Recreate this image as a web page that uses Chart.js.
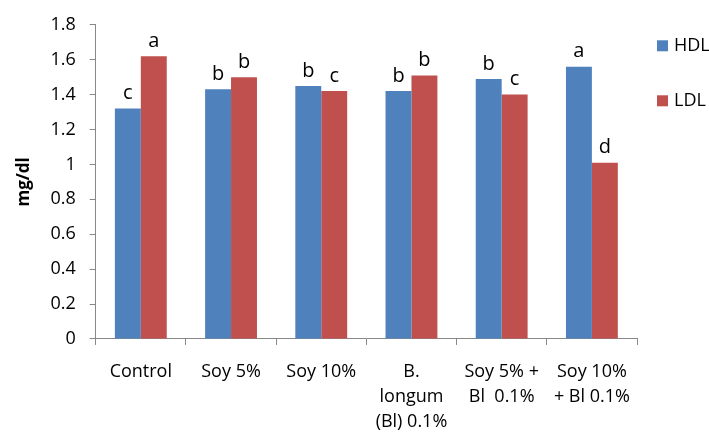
<!DOCTYPE html>
<html>
<head>
<meta charset="utf-8">
<script src="https://cdn.jsdelivr.net/npm/chart.js@4.4.0/dist/chart.umd.min.js"></script>
<style>
    html, body { margin: 0; padding: 0; background: #fff; }
    #wrap { width: 709px; height: 432px; }
</style>
</head>
<body>
<div id="wrap"><canvas id="lipidChart"></canvas></div>
<script>
// categorias e valores (mg/dl)
const grupos = ['Control', 'Soy 5%', 'Soy 10%', ['B.', 'longum', '(Bl) 0.1%'], ['Soy 5% +', 'Bl  0.1%'], ['Soy 10%', '+ Bl 0.1%']];
const hdl = [1.32, 1.43, 1.45, 1.42, 1.49, 1.56];
const ldl = [1.62, 1.50, 1.42, 1.51, 1.40, 1.01];
// letras de significância
const letrasHdl = ['c', 'b', 'b', 'b', 'b', 'a'];
const letrasLdl = ['a', 'b', 'c', 'b', 'c', 'd'];
const yTicks = [0, 0.2, 0.4, 0.6, 0.8, 1, 1.2, 1.4, 1.6, 1.8];

const fonte = "'Open Sans', sans-serif";

// letras em cima de cada barra
const letrasPlugin = {
    id: 'letras',
    afterDatasetsDraw(chart) {
        const ctx = chart.ctx;
        const listas = [letrasHdl, letrasLdl];
        ctx.save();
        ctx.fillStyle = '#000';
        ctx.font = '20px ' + fonte;
        ctx.textAlign = 'center';
        ctx.textBaseline = 'bottom';
        chart.data.datasets.forEach(function (ds, i) {
            chart.getDatasetMeta(i).data.forEach(function (bar, j) {
                ctx.fillText(listas[i][j], bar.x, bar.y - 5);
            });
        });
        ctx.restore();
    }
};

// legenda à direita, desenhada à mão
const legendaPlugin = {
    id: 'legenda',
    afterDraw(chart) {
        const ctx = chart.ctx;
        const x = chart.chartArea.right + 20;
        ctx.save();
        ctx.font = '18px ' + fonte;
        ctx.textBaseline = 'middle';
        chart.data.datasets.forEach(function (ds, i) {
            const y = chart.chartArea.top + 21 + i * 55;
            ctx.fillStyle = ds.backgroundColor;
            ctx.fillRect(x, y - 5.5, 11, 11);
            ctx.fillStyle = '#000';
            ctx.fillText(ds.label, x + 17, y);
        });
        ctx.restore();
    }
};

const ctx = document.getElementById('lipidChart').getContext('2d');
const lipidChart = new Chart(ctx, {
    type: 'bar',
    data: {
        labels: grupos,
        datasets: [
            {
                label: 'HDL',
                data: hdl,
                backgroundColor: '#4F81BD',
                borderWidth: 0
            },
            {
                label: 'LDL',
                data: ldl,
                backgroundColor: '#C0504D',
                borderWidth: 0
            }
        ]
    },
    options: {
        responsive: true,
        maintainAspectRatio: false,
        animation: false,
        categoryPercentage: 0.575,
        barPercentage: 1,
        layout: {
            padding: { top: 19, right: 72, left: 14, bottom: -16 }
        },
        plugins: {
            legend: { display: false },
            tooltip: { enabled: false }
        },
        scales: {
            x: {
                grid: {
                    display: true,
                    drawOnChartArea: false,
                    offset: true,
                    tickLength: 6,
                    color: '#888'
                },
                border: { color: '#888' },
                ticks: {
                    color: '#000',
                    maxRotation: 0,
                    autoSkip: false,
                    padding: 14,
                    font: { family: fonte, size: 18, lineHeight: 1.39 }
                }
            },
            y: {
                min: 0,
                max: 1.8,
                afterBuildTicks: function (axis) {
                    axis.ticks = yTicks.map(function (v) { return { value: v }; });
                },
                grid: {
                    display: true,
                    drawOnChartArea: false,
                    tickLength: 6,
                    color: '#888'
                },
                border: { color: '#888' },
                ticks: {
                    color: '#000',
                    padding: 14,
                    font: { family: fonte, size: 18 },
                    callback: function (v) { return String(Math.round(v * 10) / 10); }
                },
                title: {
                    display: true,
                    text: 'mg/dl',
                    color: '#000',
                    padding: { top: 0, bottom: 2 },
                    font: { family: fonte, size: 17, weight: 'bold' }
                }
            }
        }
    },
    plugins: [letrasPlugin, legendaPlugin]
});
</script>
</body>
</html>
